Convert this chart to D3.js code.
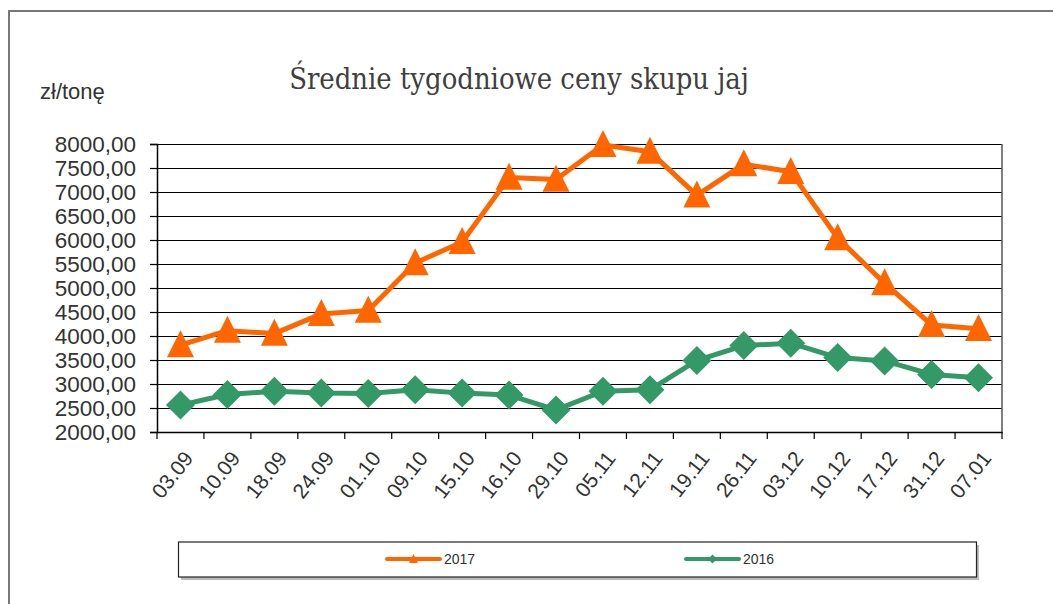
<!DOCTYPE html>
<html>
<head>
<meta charset="utf-8">
<script src="https://cdn.jsdelivr.net/npm/d3@7"></script>
<style>
  body { margin: 0; background: #fff; }
  svg { display: block; }
</style>
</head>
<body>
<svg id="chart" width="1053" height="604"></svg>
<script>
const categories = ["03.09","10.09","18.09","24.09","01.10","09.10","15.10","16.10","29.10","05.11","12.11","19.11","26.11","03.12","10.12","17.12","31.12","07.01"];
const values2017 = [3810,4110,4050,4460,4530,5520,5960,7300,7260,7980,7840,6930,7580,7420,6040,5100,4230,4150];
const values2016 = [2560,2780,2850,2810,2800,2880,2810,2770,2460,2850,2880,3490,3800,3850,3550,3480,3200,3130];
const yTicks = [2000,2500,3000,3500,4000,4500,5000,5500,6000,6500,7000,7500,8000];
const seriesNames = ["2017","2016"];
const titleText = "Średnie tygodniowe ceny skupu jaj";
const unitText = "zł/tonę";

(function () {
const svg = d3.select("#chart");
const pLeft = 157, pRight = 1002, pTop = 144, pBottom = 432;
const orange = "#FF6600", green = "#339966";
const textColor = "#333333";

// outer frame
svg.append("rect").attr("x", 9).attr("y", 11).attr("width", 1200).attr("height", 800)
  .attr("fill", "none").attr("stroke", "#777").attr("stroke-width", 2);

const x = d3.scaleBand().domain(categories).range([pLeft, pRight]).padding(0);
const y = d3.scaleLinear().domain([2000, 8000]).range([pBottom, pTop]);

// gridlines
svg.append("g").selectAll("line").data(yTicks.filter(v => v > 2000)).join("line")
  .attr("x1", pLeft).attr("x2", pRight)
  .attr("y1", d => y(d)).attr("y2", d => y(d))
  .attr("stroke", "#000").attr("stroke-width", 1).attr("shape-rendering", "crispEdges");
// right border of plot area
svg.append("line").attr("x1", pRight).attr("x2", pRight).attr("y1", pTop).attr("y2", pBottom)
  .attr("stroke", "#555").attr("stroke-width", 1.5);

// y axis
const yAxis = svg.append("g").attr("transform", `translate(${pLeft},0)`)
  .call(d3.axisLeft(y).tickValues(yTicks).tickSize(7).tickPadding(14)
    .tickFormat(d => d3.format(".2f")(d).replace(".", ",")));
yAxis.select(".domain").attr("stroke", "#000").attr("stroke-width", 1.5);
yAxis.selectAll(".tick line").attr("stroke", "#000").attr("stroke-width", 1.2);
yAxis.selectAll(".tick text").attr("fill", textColor)
  .style("font-family", "'Liberation Sans', Arial, sans-serif").style("font-size", "22.5px");

// x axis
const xAxis = svg.append("g").attr("transform", `translate(0,${pBottom})`)
  .call(d3.axisBottom(x).tickSize(0).tickPadding(0));
xAxis.select(".domain").attr("stroke", "#000").attr("stroke-width", 1.5);
// boundary ticks
const bounds = categories.map(c => x(c)).concat([pRight]);
svg.append("g").selectAll("line").data(bounds).join("line")
  .attr("x1", d => d).attr("x2", d => d).attr("y1", pBottom).attr("y2", pBottom + 7)
  .attr("stroke", "#000").attr("stroke-width", 1.2);
xAxis.selectAll(".tick text")
  .attr("fill", textColor)
  .style("font-family", "'Liberation Sans', Arial, sans-serif").style("font-size", "21px")
  .attr("text-anchor", "end")
  .attr("y", 0)
  .attr("dy", "0.35em")
  .attr("transform", "translate(8,22) rotate(-52)");

// lines
const cx = c => x(c) + x.bandwidth() / 2;
const line = d3.line().x(d => cx(d.c)).y(d => y(d.v));
const data2017 = categories.map((c, i) => ({ c, v: values2017[i] }));
const data2016 = categories.map((c, i) => ({ c, v: values2016[i] }));

svg.append("path").datum(data2016).attr("d", line).attr("fill", "none")
  .attr("stroke", green).attr("stroke-width", 5).attr("stroke-linejoin", "round");
const dia = (s) => `M0,${-s}L${s},0L0,${s}L${-s},0Z`;
svg.append("g").selectAll("path").data(data2016).join("path")
  .attr("d", dia(14.5))
  .attr("transform", d => `translate(${cx(d.c)},${y(d.v)})`)
  .attr("fill", green);

svg.append("path").datum(data2017).attr("d", line).attr("fill", "none")
  .attr("stroke", orange).attr("stroke-width", 5).attr("stroke-linejoin", "round");
const tri = (s) => `M0,${-s * 0.55}L${s / 2},${s * 0.45}L${-s / 2},${s * 0.45}Z`;
svg.append("g").selectAll("path").data(data2017).join("path")
  .attr("d", tri(27))
  .attr("transform", d => `translate(${cx(d.c)},${y(d.v)})`)
  .attr("fill", orange);

// title
const title = svg.append("text").attr("x", 519).attr("y", 89).attr("text-anchor", "middle")
  .attr("fill", "#404040").style("font-family", "'DejaVu Serif', 'Liberation Serif', serif")
  .style("font-stretch", "condensed")
  .style("font-size", "26px").text(titleText);
const tl = title.node().getComputedTextLength();
title.style("font-size", Math.min(30, 26 * 460 / tl) + "px");

// unit label
svg.append("text").attr("x", 40).attr("y", 99).attr("fill", textColor)
  .style("font-family", "'Liberation Sans', Arial, sans-serif").style("font-size", "22px")
  .text(unitText);

// legend
svg.append("rect").attr("x", 181).attr("y", 545).attr("width", 798).attr("height", 35)
  .attr("fill", "#bbb");
svg.append("rect").attr("x", 178.5).attr("y", 542).attr("width", 798).attr("height", 35)
  .attr("fill", "#fff").attr("stroke", "#222").attr("stroke-width", 1.2);
const legendItems = [
  { name: seriesNames[0], color: orange, x: 387, type: "tri" },
  { name: seriesNames[1], color: green, x: 686, type: "dia" }
];
const lg = svg.append("g").selectAll("g").data(legendItems).join("g")
  .attr("transform", d => `translate(${d.x},559)`);
lg.append("line").attr("x1", 0).attr("x2", 53).attr("y1", 0).attr("y2", 0)
  .attr("stroke", d => d.color).attr("stroke-width", 4).attr("stroke-linecap", "round");
lg.append("path")
  .attr("d", d => d.type === "tri" ? tri(9) : dia(4.5))
  .attr("transform", "translate(26.5,0)")
  .attr("fill", d => d.color);
lg.append("text").attr("x", 57).attr("y", 0).attr("dy", "0.35em").attr("fill", textColor)
  .style("font-family", "'Liberation Sans', Arial, sans-serif").style("font-size", "14px")
  .text(d => d.name);
})();
</script>
</body>
</html>
